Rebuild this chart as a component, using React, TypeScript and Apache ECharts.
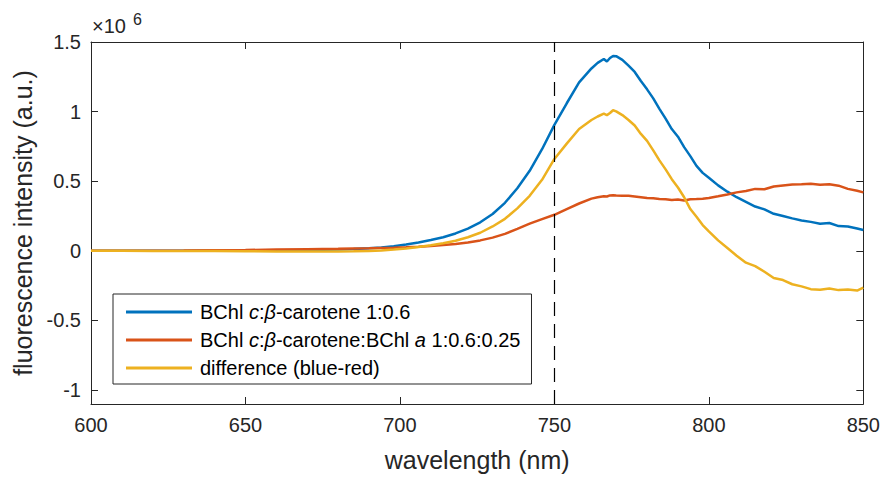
import React, { useEffect, useRef } from "react";
import * as echarts from "echarts";

const wavelengths = [
  600, 610, 620, 630, 640, 650, 660, 670, 680, 685, 690, 694, 698, 702, 706, 710, 714, 718, 722, 726,
  730, 734, 738, 742, 746, 750, 754, 758, 762, 764, 766, 767, 768, 769, 770, 772, 774, 776, 778, 780,
  782, 784, 786, 788, 790, 792, 794, 796, 798, 800, 803, 806, 809, 812, 815, 818, 821, 824, 827, 830,
  833, 836, 839, 842, 845, 848, 850,
];

// values in units of 10^6
const blueValues = [
  0.0, 0.0, 0.0, 0.001, 0.002, 0.003, 0.004, 0.006, 0.01, 0.013, 0.018, 0.024, 0.033, 0.045, 0.06, 0.078, 0.098, 0.125, 0.16, 0.205,
  0.265, 0.345, 0.45, 0.575, 0.73, 0.905, 1.06, 1.21, 1.31, 1.35, 1.378, 1.36, 1.385, 1.4, 1.398, 1.372, 1.33, 1.285, 1.22, 1.16,
  1.095, 1.02, 0.95, 0.875, 0.82, 0.745, 0.68, 0.61, 0.56, 0.525, 0.47, 0.425, 0.385, 0.352, 0.318, 0.298, 0.266, 0.25, 0.233, 0.218,
  0.208, 0.195, 0.2, 0.178, 0.175, 0.16, 0.15,
];

const redValues = [
  0.0, 0.0, 0.001, 0.002, 0.004, 0.006, 0.009, 0.012, 0.015, 0.017, 0.019, 0.021, 0.023, 0.026, 0.03, 0.035, 0.042, 0.05, 0.06, 0.075,
  0.095, 0.122, 0.158, 0.195, 0.228, 0.259, 0.3, 0.34, 0.375, 0.385, 0.392, 0.39, 0.398, 0.4, 0.398, 0.396, 0.395, 0.39, 0.385, 0.38,
  0.377, 0.373, 0.37, 0.365, 0.368, 0.362, 0.37, 0.372, 0.375, 0.38, 0.392, 0.405, 0.42, 0.43, 0.445, 0.442, 0.462, 0.47, 0.477, 0.478,
  0.482, 0.475, 0.478, 0.468, 0.445, 0.432, 0.42,
];

const diffValues = [
  0.0, 0.0, -0.001, -0.001, -0.002, -0.003, -0.004, -0.005, -0.004, -0.003, -0.001, 0.003, 0.009, 0.017, 0.027, 0.04, 0.055, 0.073, 0.098, 0.13,
  0.175, 0.23, 0.305, 0.395, 0.51, 0.66, 0.77, 0.875, 0.94, 0.965, 0.985, 0.975, 0.99, 1.01, 1.002, 0.975, 0.94, 0.9, 0.84, 0.79,
  0.722, 0.65, 0.585, 0.515, 0.455, 0.385, 0.3, 0.245, 0.185, 0.14, 0.075, 0.02, -0.035, -0.085, -0.11, -0.15, -0.195, -0.21, -0.24, -0.255,
  -0.275, -0.28, -0.27, -0.282, -0.278, -0.285, -0.264,
];

const seriesNames = [
  "BChl c:β-carotene 1:0.6",
  "BChl c:β-carotene:BChl a 1:0.6:0.25",
  "difference (blue-red)",
];
const legendRich = [
  "{s|}{n|BChl }{i|c}{n|:}{i|β}{n|-carotene 1:0.6}",
  "{s|}{n|BChl }{i|c}{n|:}{i|β}{n|-carotene:BChl }{i|a}{n| 1:0.6:0.25}",
  "{s|}{n|difference (blue-red)}",
];
const colors = ["#0072BD", "#D95319", "#EDB120"];
const yTicks = [-1, -0.5, 0, 0.5, 1, 1.5];
const markerWavelength = 750;

const FONT = "'Liberation Sans', Arial, Helvetica, sans-serif";
const AXIS_COLOR = "#262626";

export default function App() {
  const ref = useRef<HTMLDivElement>(null);
  useEffect(() => {
    if (!ref.current) return;
    const chart = echarts.init(ref.current, undefined, { renderer: "svg" });
    const valuesList = [blueValues, redValues, diffValues];
    const grid = { left: 91, top: 42, width: 774, height: 365, containLabel: false };
    const tickStyle = { inside: true, length: 7, lineStyle: { color: AXIS_COLOR, width: 1 } };
    const lineStyle = { color: AXIS_COLOR, width: 1 };
    chart.setOption({
      animation: false,
      textStyle: { fontFamily: FONT },
      grid,
      xAxis: [
        {
          type: "value",
          min: 600,
          max: 850,
          interval: 50,
          position: "bottom",
          axisLine: { show: true, onZero: false, lineStyle },
          axisTick: { ...tickStyle },
          axisLabel: { color: AXIS_COLOR, fontSize: 20, margin: 11, fontFamily: FONT },
          splitLine: { show: false },
          name: "wavelength (nm)",
          nameLocation: "middle",
          nameGap: 43,
          nameTextStyle: { color: AXIS_COLOR, fontSize: 25, fontFamily: FONT },
        },
        {
          type: "value",
          min: 600,
          max: 850,
          interval: 50,
          position: "top",
          axisLine: { show: true, onZero: false, lineStyle },
          axisTick: { ...tickStyle },
          axisLabel: { show: false },
          splitLine: { show: false },
        },
      ],
      yAxis: [
        {
          type: "value",
          min: -1.1,
          max: 1.5,
          position: "left",
          axisLine: { show: true, onZero: false, lineStyle },
          axisTick: { ...tickStyle, customValues: yTicks },
          axisLabel: {
            color: AXIS_COLOR,
            fontSize: 20,
            margin: 10,
            fontFamily: FONT,
            customValues: yTicks,
            formatter: (v: number) => String(v),
          },
          splitLine: { show: false },
          name: "fluorescence intensity (a.u.)",
          nameLocation: "middle",
          nameGap: 55,
          nameTextStyle: { color: AXIS_COLOR, fontSize: 25, fontFamily: FONT },
        },
        {
          type: "value",
          min: -1.1,
          max: 1.5,
          position: "right",
          axisLine: { show: true, onZero: false, lineStyle },
          axisTick: { ...tickStyle, customValues: yTicks },
          axisLabel: { show: false, customValues: yTicks },
          splitLine: { show: false },
        },
      ],
      legend: {
        data: seriesNames,
        orient: "vertical",
        left: 113,
        top: 294,
        padding: [8, 11, 6, 13],
        itemGap: 8,
        itemWidth: 66,
        itemHeight: 3,
        icon: "rect",
        borderColor: AXIS_COLOR,
        borderWidth: 1,
        backgroundColor: "#ffffff",
        formatter: (name: string) => legendRich[seriesNames.indexOf(name)],
        textStyle: {
          color: "#000000",
          fontSize: 20,
          fontFamily: FONT,
          rich: {
            s: { width: 3, fontSize: 20, lineHeight: 22 },
            n: { fontSize: 20, lineHeight: 22, fontFamily: FONT, color: "#000000" },
            i: { fontSize: 20, lineHeight: 22, fontFamily: FONT, fontStyle: "italic", color: "#000000" },
          },
        },
      },
      graphic: [
        {
          type: "text",
          left: 92,
          top: 16,
          style: { text: "×10", fontSize: 20, fontFamily: FONT, fill: AXIS_COLOR },
        },
        {
          type: "text",
          left: 133,
          top: 11,
          style: { text: "6", fontSize: 16, fontFamily: FONT, fill: AXIS_COLOR },
        },
      ],
      series: seriesNames.map((name, si) => ({
        name,
        type: "line",
        xAxisIndex: 0,
        yAxisIndex: 0,
        showSymbol: false,
        symbol: "none",
        lineStyle: { color: colors[si], width: 2.5 },
        itemStyle: { color: colors[si] },
        data: wavelengths.map((w, i) => [w, valuesList[si][i]]),
        markLine:
          si === 0
            ? {
                silent: true,
                symbol: "none",
                label: { show: false },
                lineStyle: { color: "#000000", width: 1.2, type: [14, 8] },
                data: [{ xAxis: markerWavelength }],
              }
            : undefined,
        z: 2 + si,
      })),
    });
    return () => chart.dispose();
  }, []);
  return (
    <div
      ref={ref}
      style={{ position: "absolute", left: 0, top: 0, width: 883, height: 477, background: "#ffffff" }}
    />
  );
}
